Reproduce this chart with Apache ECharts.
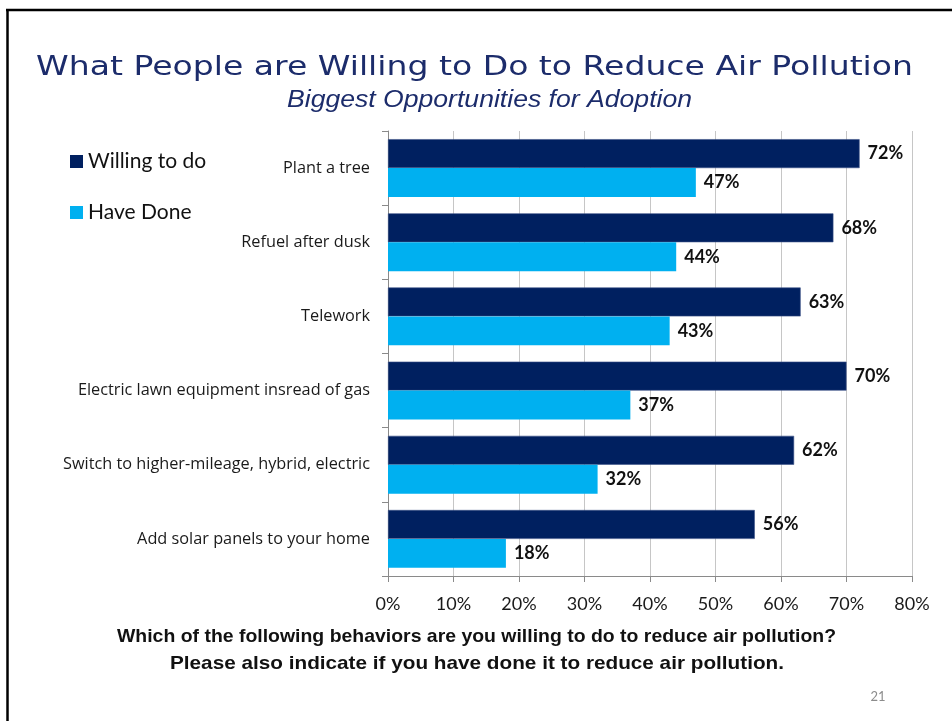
<!DOCTYPE html>
<html>
<head>
<meta charset="utf-8">
<style>
  html, body { margin: 0; padding: 0; background: #ffffff; }
  #chart { width: 952px; height: 721px; }
</style>
<script src="https://cdn.jsdelivr.net/npm/echarts@6/dist/echarts.min.js"></script>
</head>
<body>
<div id="chart"></div>
<script>
// Survey behaviours, listed top to bottom
const categories = [
  'Plant a tree',
  'Refuel after dusk',
  'Telework',
  'Electric lawn equipment insread of gas',
  'Switch to higher-mileage, hybrid, electric',
  'Add solar panels to your home'
];
// Percent of respondents
const willingToDo = [72, 68, 63, 70, 62, 56];
const haveDone = [47, 44, 43, 37, 32, 18];
// Value axis ticks (percent)
const xTicks = [0, 10, 20, 30, 40, 50, 60, 70, 80];

const NAVY = '#002060';
const SKY = '#00B0F0';
const TITLE_COLOR = '#1C2C6B';
const BODY_FONT = 'Lato, "Open Sans", sans-serif';
const LABEL_FONT = '"Open Sans", Lato, sans-serif';

// Headline texts are set in a wide face: stretch each line horizontally
// so it spans the intended width.
const measureCtx = document.createElement('canvas').getContext('2d');
function headline(text, font, fill, cx, cy, span) {
  measureCtx.font = font;
  const w = measureCtx.measureText(text).width;
  return {
    type: 'text',
    x: cx,
    y: cy,
    scaleX: span / w,
    silent: true,
    style: { text, font, fill, align: 'center', verticalAlign: 'middle' }
  };
}

const chart = echarts.init(document.getElementById('chart'));

const valueLabel = {
  show: true,
  position: 'right',
  distance: 8,
  formatter: p => p.value + '%',
  fontFamily: BODY_FONT,
  fontWeight: 'bold',
  fontSize: 18,
  color: '#111111'
};

chart.setOption({
  animation: false,
  backgroundColor: '#ffffff',
  legend: {
    orient: 'vertical',
    left: 65,
    top: 146,
    icon: 'rect',
    itemWidth: 13,
    itemHeight: 13,
    itemGap: 30,
    itemStyle: { borderWidth: 0 },
    textStyle: {
      fontFamily: BODY_FONT,
      fontSize: 21,
      color: '#111111'
    },
    data: ['Willing to do', 'Have Done']
  },
  grid: {
    left: 388,
    right: 40,
    top: 131,
    bottom: 145,
    containLabel: false
  },
  xAxis: {
    type: 'value',
    min: xTicks[0],
    max: xTicks[xTicks.length - 1],
    interval: xTicks[1] - xTicks[0],
    axisLine: { show: true, lineStyle: { color: '#8a8a8a', width: 1 } },
    axisTick: { show: true, length: 6, lineStyle: { color: '#8a8a8a' } },
    splitLine: { show: true, lineStyle: { color: '#c6c6c6', width: 1 } },
    axisLabel: {
      formatter: '{value}%',
      margin: 19,
      fontFamily: BODY_FONT,
      fontSize: 18,
      color: '#1a1a1a'
    }
  },
  yAxis: {
    type: 'category',
    data: categories,
    inverse: true,
    axisLine: { show: true, lineStyle: { color: '#8a8a8a', width: 1 } },
    axisTick: { show: true, length: 6, lineStyle: { color: '#8a8a8a' } },
    axisLabel: {
      margin: 18,
      fontFamily: LABEL_FONT,
      fontSize: 16.3,
      color: '#1a1a1a'
    }
  },
  series: [
    {
      name: 'Willing to do',
      type: 'bar',
      data: willingToDo,
      barGap: '0%',
      barCategoryGap: '22%',
      itemStyle: { color: NAVY, borderColor: '#3d5288', borderWidth: 0.6 },
      label: valueLabel
    },
    {
      name: 'Have Done',
      type: 'bar',
      data: haveDone,
      barGap: '0%',
      barCategoryGap: '22%',
      itemStyle: { color: SKY },
      label: valueLabel
    }
  ],
  graphic: [
    // slide frame
    {
      type: 'line',
      shape: { x1: 6, y1: 10, x2: 952, y2: 10 },
      style: { stroke: '#000000', lineWidth: 2.5 }
    },
    {
      type: 'line',
      shape: { x1: 7.5, y1: 9, x2: 7.5, y2: 721 },
      style: { stroke: '#000000', lineWidth: 2.5 }
    },
    headline('What People are Willing to Do to Reduce Air Pollution',
      '26px "DejaVu Sans", sans-serif', TITLE_COLOR, 474.5, 68, 877),
    headline('Biggest Opportunities for Adoption',
      'italic 23px "Liberation Sans", Arial, sans-serif', TITLE_COLOR, 489.5, 101, 405),
    headline('Which of the following behaviors are you willing to do to reduce air pollution?',
      'bold 19px "Liberation Sans", Arial, sans-serif', '#111111', 476.5, 637, 719),
    headline('Please also indicate if you have done it to reduce air pollution.',
      'bold 19px "Liberation Sans", Arial, sans-serif', '#111111', 477, 664, 614),
    // slide number
    {
      type: 'text',
      x: 878,
      y: 697,
      style: {
        text: '21',
        font: '13px ' + BODY_FONT,
        fill: '#8c8c8c',
        align: 'center',
        verticalAlign: 'middle'
      }
    }
  ]
});
</script>
</body>
</html>
